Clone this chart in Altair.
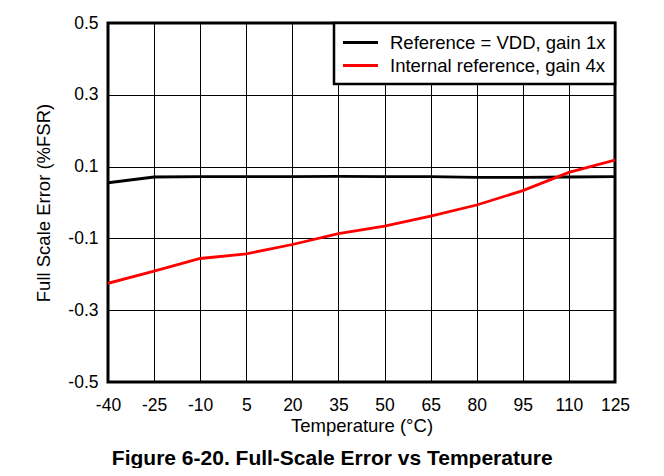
import altair as alt
import pandas as pd

temps = [-40, -25, -10, 5, 20, 35, 50, 65, 80, 95, 110, 125]
ref_vdd = [0.055, 0.071, 0.072, 0.072, 0.072, 0.073, 0.072, 0.072, 0.070, 0.070, 0.071, 0.072]
int_ref = [-0.225, -0.191, -0.156, -0.143, -0.117, -0.087, -0.066, -0.038, -0.007, 0.033, 0.084, 0.118]
series_names = ["Reference = VDD, gain 1x", "Internal reference, gain 4x"]
series_colors = ["#000000", "#ff0000"]
x_ticks = [-40, -25, -10, 5, 20, 35, 50, 65, 80, 95, 110, 125]
y_ticks = [-0.5, -0.3, -0.1, 0.1, 0.3, 0.5]

rows = []
for t, v in zip(temps, ref_vdd):
    rows.append({"temp": t, "err": v, "series": series_names[0]})
for t, v in zip(temps, int_ref):
    rows.append({"temp": t, "err": v, "series": series_names[1]})
df = pd.DataFrame(rows)

FONT = "Liberation Sans"

chart = alt.Chart(df).mark_line(strokeWidth=2.8, clip=True).encode(
    x=alt.X("temp:Q",
            scale=alt.Scale(domain=[-40, 125], nice=False, zero=False),
            axis=alt.Axis(values=x_ticks, title="Temperature (°C)",
                          labelExpr="replace(datum.label, '−', '-')",
                          grid=True, ticks=False, domain=False,
                          labelPadding=14, titlePadding=3,
                          labelFlush=False)),
    y=alt.Y("err:Q",
            scale=alt.Scale(domain=[-0.5, 0.5], nice=False, zero=False),
            axis=alt.Axis(values=y_ticks, title="Full Scale Error (%FSR)",
                          labelExpr="replace(format(datum.value, '.1f'), '−', '-')",
                          grid=True, ticks=False, domain=False,
                          labelPadding=10, titlePadding=14)),
    color=alt.Color("series:N",
                    scale=alt.Scale(domain=series_names, range=series_colors),
                    sort=series_names,
                    legend=alt.Legend(title=None, orient="top-right", offset=0)),
    detail="series:N",
).properties(
    width=507,
    height=359,
    background="white",
    autosize=alt.AutoSizeParams(type="none"),
    padding={"left": 100, "top": 15, "right": 41, "bottom": 86},
    title=alt.TitleParams(
        "Figure 6-20. Full-Scale Error vs Temperature",
        orient="bottom", anchor="middle", frame="bounds",
        font=FONT, fontSize=21, fontWeight="bold", color="black", offset=13),
).configure_view(
    stroke="black", strokeWidth=3, fill="white"
).configure_axis(
    gridColor="black", gridWidth=1, gridOpacity=1,
    labelFont=FONT, labelFontSize=17.5, labelColor="black",
    titleFont=FONT, titleFontSize=18.5, titleColor="black", titleFontWeight="normal",
).configure_legend(
    strokeColor="black", strokeWidth=2.5, fillColor="white",
    padding=9, labelFont=FONT, labelFontSize=18.5, labelColor="black",
    labelLimit=400, symbolType="M-1.2,0H2.8", symbolSize=306, symbolStrokeWidth=3,
    labelOffset=26, rowPadding=3,
)

chart.save("out.html", embed_options={"renderer": "svg", "actions": False})
